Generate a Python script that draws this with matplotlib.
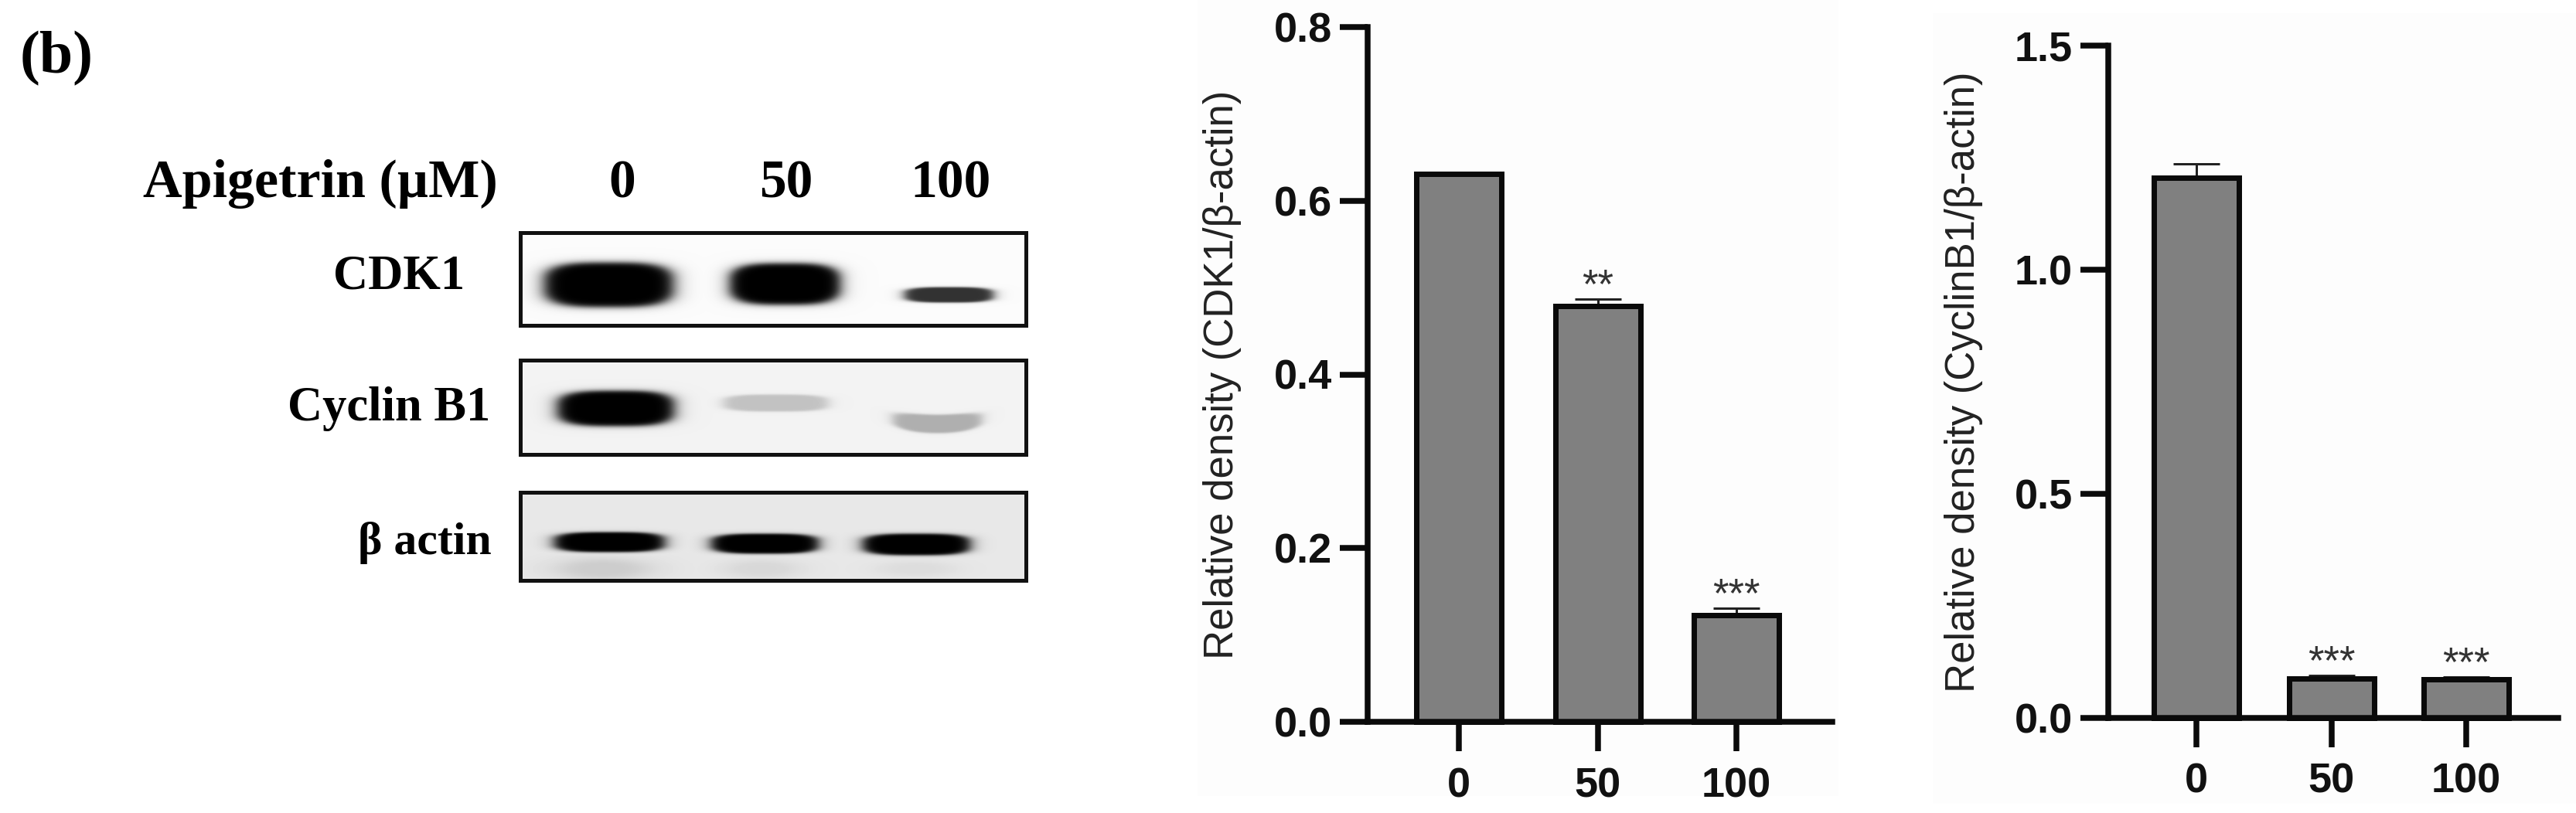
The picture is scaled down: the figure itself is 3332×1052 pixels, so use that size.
import numpy as np
import matplotlib
matplotlib.use('Agg')
import matplotlib.pyplot as plt
from matplotlib.patches import Rectangle

# Load the values
doses = ['0', '50', '100']
cdk1_density = [0.631, 0.479, 0.1224]
cdk1_error = [0.0, 0.008, 0.008]
cdk1_stars = ['', '**', '***']
cyclin_density = [1.206, 0.088, 0.086]
cyclin_error = [0.031, 0.007, 0.005]
cyclin_stars = ['', '***', '***']
cdk1_ticks = [0.0, 0.2, 0.4, 0.6, 0.8]
cyclin_ticks = [0.0, 0.5, 1.0, 1.5]

# Band darkness per lane on the blots (0 = nothing, 1 = black)
cdk1_bands = [1.0, 1.0, 0.8]
cyclin_bands = [1.0, 0.2, 0.28]
actin_bands = [1.0, 1.0, 1.0]
blot_names = ['CDK1', 'Cyclin B1', 'β actin']

W, H = 3332, 1052
fig = plt.figure(figsize=(W / 100, H / 100), dpi=100, facecolor='white')
SERIF = 'Liberation Serif'
SANS = 'Liberation Sans'


def px(v):
    # pixels to points
    return v * 0.72


def add_axes_px(left, top, right, bottom):
    return fig.add_axes([left / W, 1 - bottom / H, (right - left) / W, (bottom - top) / H])


def fig_text(x, y, s, size, **kw):
    fig.text(x / W, 1 - y / H, s, fontsize=size, family=SERIF, fontweight='bold',
             ha='center', va='center', color='black', **kw)


def draw_blot(frame, background, bands, shapes, smear=None):
    left, top, right, bottom = frame
    ax = add_axes_px(left, top, right, bottom)
    xx, yy = np.meshgrid(np.arange(left, right), np.arange(top, bottom))
    dark = np.zeros_like(xx, dtype=float)
    for level, (cx, cy, rx, ry, bend) in zip(bands, shapes):
        shift = bend * (1 - ((xx - cx) / rx) ** 2)
        # rounded box shape with a soft edge
        r = (np.abs((xx - cx) / rx) ** 3.2 + np.abs((yy - cy - shift) / ry) ** 3.2) ** (1 / 3.2)
        dark = np.maximum(dark, level / (1 + r ** 14))
    if smear is not None:
        for cx, cy, rx, ry, level in smear:
            r = np.sqrt(((xx - cx) / rx) ** 2 + ((yy - cy) / ry) ** 2)
            dark = np.maximum(dark, level / (1 + r ** 4))
    img = background * (1 - dark)
    ax.imshow(img, cmap='gray', vmin=0, vmax=1, aspect='auto', interpolation='bilinear')
    ax.set_xticks([])
    ax.set_yticks([])
    for s in ax.spines.values():
        s.set_linewidth(px(5))
        s.set_color('#111111')


def draw_bars(box, ymax, density, error, stars, ticks, ylabel, label_x, centers):
    left, top, right, bottom = box
    ax = add_axes_px(left, top, right, bottom)
    step = (centers[2] - centers[0]) / 2
    ax.set_xlim((left - centers[0]) / step, (right - centers[0]) / step)
    ax.set_ylim(0, ymax)
    x = np.arange(len(doses))
    ax.bar(x, density, width=110 / step, color='#808080', edgecolor='#0a0a0a',
           linewidth=px(7), clip_on=False, zorder=2)
    # only the upper half of the error bar shows
    ax.errorbar(x, density, yerr=[np.zeros(len(x)), error], fmt='none', ecolor='#222222',
                elinewidth=px(3), capsize=px(30), capthick=px(3), clip_on=False, zorder=1)
    for xi, d, e, s in zip(x, density, error, stars):
        if s:
            ax.annotate(s, (xi, d + e), xytext=(0, px(2)), textcoords='offset points',
                        ha='center', va='baseline', fontsize=38, family=SANS, color='#333333')
    ax.set_xticks(x)
    ax.set_xticklabels(doses)
    ax.set_yticks(ticks)
    ax.set_yticklabels([f'{t:.1f}' for t in ticks])
    for s in ['top', 'right']:
        ax.spines[s].set_visible(False)
    for s in ['left', 'bottom']:
        ax.spines[s].set_linewidth(px(7.5))
        ax.spines[s].set_color('#0a0a0a')
        ax.spines[s].set_zorder(5)
    ax.tick_params(axis='y', length=px(36), width=px(7.5), pad=px(10), color='#0a0a0a')
    ax.tick_params(axis='x', length=px(38), width=px(7.5), pad=px(20), color='#0a0a0a')
    for lab in ax.get_xticklabels() + ax.get_yticklabels():
        lab.set_family(SANS)
        lab.set_fontweight('bold')
        lab.set_fontsize(39)
        lab.set_color('#111111')
    ax.set_ylabel(ylabel, family=SANS, fontsize=38, color='#222222')
    ax.yaxis.set_label_coords((label_x - left) / (right - left), 0.5)
    ax.patch.set_alpha(0)


# The graphs sit on slightly off-white pasted panels
fig.add_artist(Rectangle((1549 / W, 1 - 1030 / H), 829 / W, 1030 / H, transform=fig.transFigure,
                         facecolor='#fdfdfd', edgecolor='none', zorder=-5))
fig.add_artist(Rectangle((2500 / W, 1 - 1040 / H), 832 / W, 1023 / H, transform=fig.transFigure,
                         facecolor='#fdfdfd', edgecolor='none', zorder=-5))

# Panel label and the blot headers
fig_text(73, 76, '(b)', 56)
fig_text(414, 238, 'Apigetrin (µM)', 50.5)
for cx, name in zip([805, 1017, 1230], doses):
    fig_text(cx, 238, name, 50)
for (cx, cy), name, size in zip([(516, 358), (503, 529), (549, 702)], blot_names, [45, 45, 43]):
    fig_text(cx, cy, name, size)

# Blots, band shapes are (x centre, y centre, x radius, y radius, bend)
draw_blot((673, 301, 1327, 421), 0.985, cdk1_bands,
          [(787, 368, 84, 29, 0), (1015, 367, 72, 27, 0), (1227, 381, 58, 10, 0)])
draw_blot((673, 466, 1327, 588), 0.95, cyclin_bands,
          [(796, 528, 76, 23, 0), (1003, 521, 68, 11, 0), (1212, 542, 58, 12, 6)])
draw_blot((673, 637, 1327, 751), 0.91, actin_bands,
          [(788, 701, 72, 13, 0), (989, 703, 70, 13, 0), (1185, 704, 70, 14, 0)],
          smear=[(780, 736, 62, 14, 0.12), (985, 736, 50, 12, 0.07), (1185, 736, 50, 10, 0.05)])

# Bar charts
draw_bars((1769, 35, 2370, 934), 0.8, cdk1_density, cdk1_error, cdk1_stars, cdk1_ticks,
          'Relative density (CDK1/β-actin)', 1606, [1887, 2067, 2246])
draw_bars((2727, 59, 3309, 929), 1.5, cyclin_density, cyclin_error, cyclin_stars, cyclin_ticks,
          'Relative density (CyclinB1/β-actin)', 2565, [2841, 3015, 3190])

plt.savefig('out.png', dpi=100)
